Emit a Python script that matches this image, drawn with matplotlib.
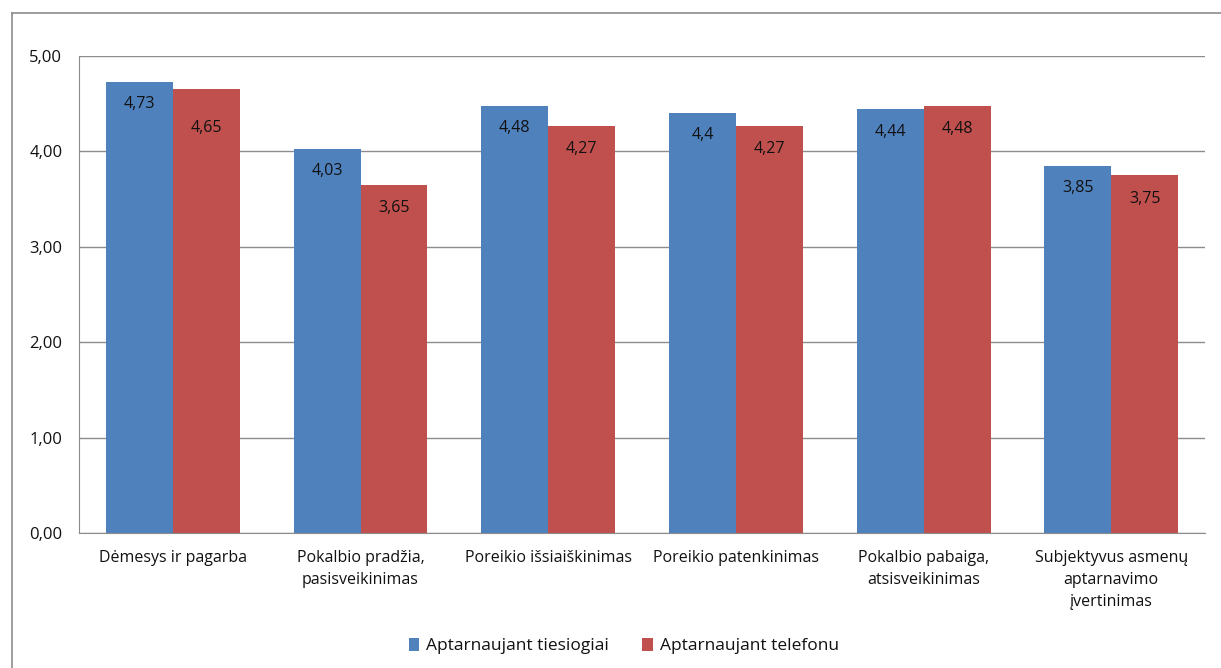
import matplotlib.pyplot as plt
import numpy as np
from matplotlib.lines import Line2D

plt.rcParams['font.family'] = ['Open Sans', 'DejaVu Sans']

kategorijos = ["Dėmesys ir pagarba",
               "Pokalbio pradžia,\npasisveikinimas",
               "Poreikio išsiaiškinimas",
               "Poreikio patenkinimas",
               "Pokalbio pabaiga,\natsisveikinimas",
               "Subjektyvus asmenų\naptarnavimo\nįvertinimas"]
tiesiogiai = [4.73, 4.03, 4.48, 4.4, 4.44, 3.85]
telefonu = [4.65, 3.65, 4.27, 4.27, 4.48, 3.75]
tiesiogiai_txt = ["4,73", "4,03", "4,48", "4,4", "4,44", "3,85"]
telefonu_txt = ["4,65", "3,65", "4,27", "4,27", "4,48", "3,75"]
y_ticks = [0, 1, 2, 3, 4, 5]
y_tick_txt = ["0,00", "1,00", "2,00", "3,00", "4,00", "5,00"]

fig = plt.figure(figsize=(12.21, 6.68), dpi=100)
ax = fig.add_axes([0.0647, 0.2021, 0.9222, 0.7141])

x = np.arange(len(kategorijos))
w = 0.357
b1 = ax.bar(x - w/2, tiesiogiai, w, color='#4F81BD', label='Aptarnaujant tiesiogiai', zorder=2)
b2 = ax.bar(x + w/2, telefonu, w, color='#C0504D', label='Aptarnaujant telefonu', zorder=2)

# reiksmes stulpeliu viduje, prie virsaus
for i, r in enumerate(b1):
    ax.annotate(tiesiogiai_txt[i], (r.get_x() + r.get_width()/2, r.get_height()),
                xytext=(0, -16), textcoords='offset points', ha='center', va='center',
                fontsize=11.5, color='#111111')
for i, r in enumerate(b2):
    off = -28 if i == 0 else -17
    ax.annotate(telefonu_txt[i], (r.get_x() + r.get_width()/2, r.get_height()),
                xytext=(0, off), textcoords='offset points', ha='center', va='center',
                fontsize=11.5, color='#111111')

ax.set_xlim(-0.5, len(kategorijos) - 0.5)
ax.set_ylim(0, 5)
ax.set_yticks(y_ticks)
ax.set_yticklabels(y_tick_txt, fontsize=12)
ax.set_xticks(x)
ax.set_xticklabels(kategorijos, fontsize=11.5, linespacing=1.5, va='top')
ax.tick_params(axis='both', length=0, colors='#111111')
ax.tick_params(axis='y', pad=12)
ax.tick_params(axis='x', pad=12)
ax.yaxis.grid(True, color='#8c8c8c', linewidth=1, zorder=0)
ax.set_axisbelow(True)
for s in ['top', 'right']:
    ax.spines[s].set_visible(False)
ax.spines['left'].set_color('#8c8c8c')
ax.spines['bottom'].set_color('#8c8c8c')

leg = fig.legend(handles=[b1, b2], loc='center', bbox_to_anchor=(0.511, 0.033),
                 ncol=2, frameon=False, fontsize=12.5, handlelength=0.6,
                 handleheight=0.8, handletextpad=0.4, columnspacing=1.9)
for t in leg.get_texts():
    t.set_color('#111111')

# isorinis remelis
fig.add_artist(Line2D([12/1221, 1.0], [1 - 13/668, 1 - 13/668], color='#8c8c8c', linewidth=1.2))
fig.add_artist(Line2D([12/1221, 12/1221], [0, 1 - 13/668], color='#8c8c8c', linewidth=1.2))

fig.savefig('out.png', dpi=100)
